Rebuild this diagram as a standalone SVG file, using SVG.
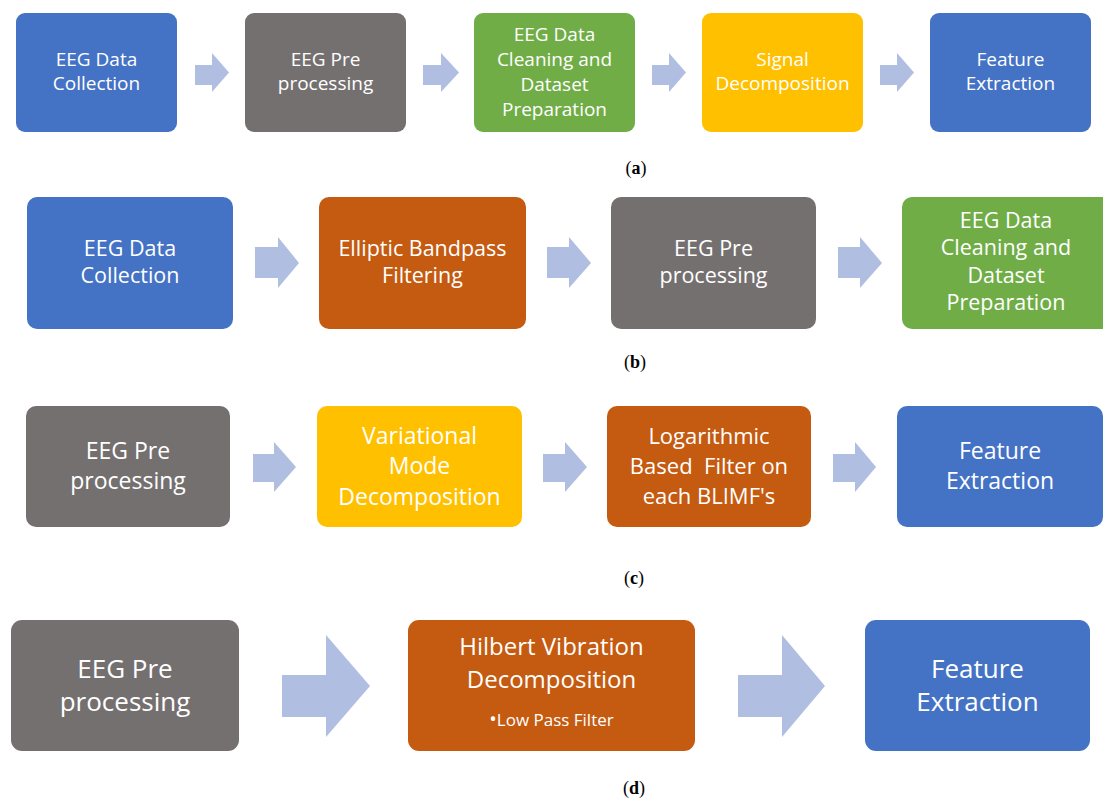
<svg xmlns="http://www.w3.org/2000/svg" width="1103" height="800" viewBox="0 0 1103 800">
<style>
.t{font-family:"Open Sans","Noto Sans",sans-serif;fill:#fff;text-anchor:middle}
.a{fill:#B0BEE1}
.cap{font-family:"Liberation Serif",serif;font-size:18px;fill:#000;text-anchor:middle}
.blue{fill:#4472C4}.gray{fill:#757070}.green{fill:#70AD47}.yel{fill:#FFC000}.org{fill:#C55A11}
</style>
<rect width="1103" height="800" fill="#fff"/>
<!-- Row a -->
<g id="a1"><rect class="blue" x="16" y="13" width="161" height="119" rx="9"/><text class="t" font-size="19"><tspan x="96.5" y="66">EEG Data</tspan><tspan x="96.5" y="90">Collection</tspan></text></g>
<g id="a2"><rect class="gray" x="245" y="13" width="161" height="119" rx="9"/><text class="t" font-size="19"><tspan x="325.5" y="66">EEG Pre</tspan><tspan x="325.5" y="90">processing</tspan></text></g>
<g id="a3"><rect class="green" x="474" y="13" width="161" height="119" rx="9"/><text class="t" font-size="19"><tspan x="554.5" y="41">EEG Data</tspan><tspan x="554.5" y="66">Cleaning and</tspan><tspan x="554.5" y="91">Dataset</tspan><tspan x="554.5" y="116">Preparation</tspan></text></g>
<g id="a4"><rect class="yel" x="702" y="13" width="161" height="119" rx="9"/><text class="t" font-size="19"><tspan x="782.5" y="66">Signal</tspan><tspan x="782.5" y="90">Decomposition</tspan></text></g>
<g id="a5"><rect class="blue" x="930" y="13" width="161" height="119" rx="9"/><text class="t" font-size="19"><tspan x="1010.5" y="66">Feature</tspan><tspan x="1010.5" y="90">Extraction</tspan></text></g>
<text class="cap" x="636" y="174">(<tspan font-weight="bold">a</tspan>)</text>
<!-- Row b -->
<g id="b1"><rect class="blue" x="27" y="197" width="206" height="132" rx="10"/><text class="t" font-size="21.5"><tspan x="130" y="256">EEG Data</tspan><tspan x="130" y="283">Collection</tspan></text></g>
<g id="b2"><rect class="org" x="319" y="197" width="207" height="132" rx="10"/><text class="t" font-size="21.5"><tspan x="422.5" y="256">Elliptic Bandpass</tspan><tspan x="422.5" y="283">Filtering</tspan></text></g>
<g id="b3"><rect class="gray" x="611" y="197" width="205" height="132" rx="10"/><text class="t" font-size="21.5"><tspan x="713.5" y="256">EEG Pre</tspan><tspan x="713.5" y="283">processing</tspan></text></g>
<g id="b4"><rect class="green" x="902" y="197" width="210" height="132" rx="10"/><text class="t" font-size="21.5"><tspan x="1006" y="228">EEG Data</tspan><tspan x="1006" y="255">Cleaning and</tspan><tspan x="1006" y="283">Dataset</tspan><tspan x="1006" y="310">Preparation</tspan></text></g>
<text class="cap" x="635" y="368">(<tspan font-weight="bold">b</tspan>)</text>
<!-- Row c -->
<g id="c1"><rect class="gray" x="26" y="406" width="204" height="121" rx="10"/><text class="t" font-size="23"><tspan x="128" y="459">EEG Pre</tspan><tspan x="128" y="489">processing</tspan></text></g>
<g id="c2"><rect class="yel" x="317" y="406" width="205" height="121" rx="10"/><text class="t" font-size="23"><tspan x="419.5" y="444">Variational</tspan><tspan x="419.5" y="474">Mode</tspan><tspan x="419.5" y="505">Decomposition</tspan></text></g>
<g id="c3"><rect class="org" x="607" y="406" width="204" height="121" rx="10"/><text class="t" font-size="22"><tspan x="709" y="444">Logarithmic</tspan><tspan x="709" y="474" xml:space="preserve">Based  Filter on</tspan><tspan x="709" y="504">each BLIMF's</tspan></text></g>
<g id="c4"><rect class="blue" x="897" y="406" width="206" height="121" rx="10"/><text class="t" font-size="23"><tspan x="1000" y="459">Feature</tspan><tspan x="1000" y="489">Extraction</tspan></text></g>
<text class="cap" x="634" y="584">(<tspan font-weight="bold">c</tspan>)</text>
<!-- Row d -->
<g id="d1"><rect class="gray" x="11" y="620" width="228" height="131" rx="11"/><text class="t" font-size="26"><tspan x="125" y="678">EEG Pre</tspan><tspan x="125" y="711">processing</tspan></text></g>
<g id="d2"><rect class="org" x="408" y="620" width="287" height="131" rx="11"/><text class="t"><tspan x="551.5" y="655" font-size="24">Hilbert Vibration</tspan><tspan x="551.5" y="688" font-size="24">Decomposition</tspan><tspan x="551.5" y="726" font-size="17"><tspan font-size="20">•</tspan>Low Pass Filter</tspan></text></g>
<g id="d3"><rect class="blue" x="865" y="620" width="225" height="131" rx="11"/><text class="t" font-size="26"><tspan x="977.5" y="678">Feature</tspan><tspan x="977.5" y="711">Extraction</tspan></text></g>
<text class="cap" x="634" y="794">(<tspan font-weight="bold">d</tspan>)</text>
<!-- connectors -->
<g id="connectors">
<polygon class="a" points="195,65 212,65 212,53 229,72.5 212,92 212,85 195,85"/>
<polygon class="a" points="423,65 441,65 441,53 459,72.5 441,92 441,85 423,85"/>
<polygon class="a" points="652,65 669,65 669,53 686,72.5 669,92 669,85 652,85"/>
<polygon class="a" points="880,65 897,65 897,53 914,72.5 897,92 897,85 880,85"/>
<polygon class="a" points="255,247 278,247 278,237 299,263 278,288 278,278 255,278"/>
<polygon class="a" points="547,247 569,247 569,237 591,263 569,288 569,278 547,278"/>
<polygon class="a" points="838,247 860,247 860,237 882,263 860,288 860,278 838,278"/>
<polygon class="a" points="253,454 274,454 274,442 296,467 274,492 274,482 253,482"/>
<polygon class="a" points="543,454 565,454 565,442 587,467 565,492 565,482 543,482"/>
<polygon class="a" points="833,454 855,454 855,442 876,467 855,492 855,482 833,482"/>
<polygon class="a" points="282,675 326,675 326,635 370,686 326,737 326,717 282,717"/>
<polygon class="a" points="738,675 782,675 782,635 825,686 782,737 782,717 738,717"/>
</g>
</svg>
